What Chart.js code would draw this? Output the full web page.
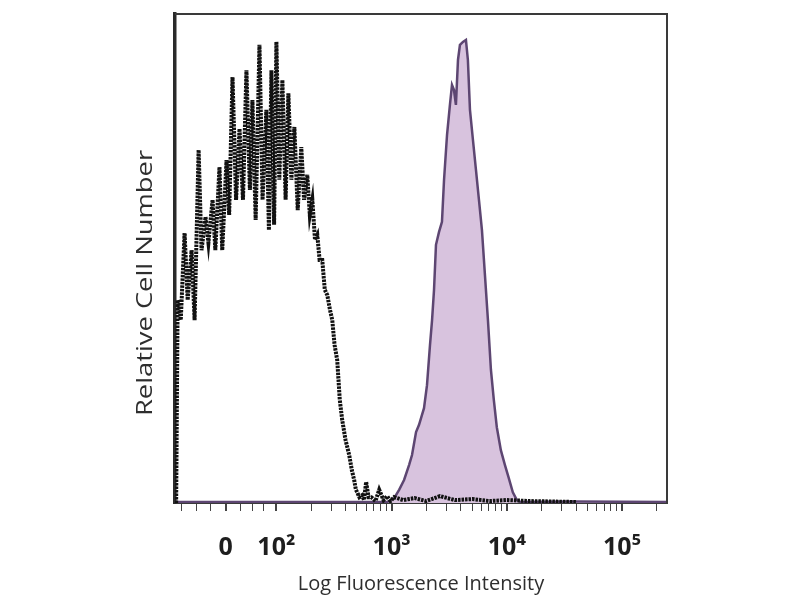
<!DOCTYPE html>
<html>
<head>
<meta charset="utf-8">
<script src="https://cdn.jsdelivr.net/npm/chart.js@4/dist/chart.umd.min.js"></script>
<style>
  html, body { margin: 0; padding: 0; background: #fff; }
  #wrap { width: 800px; height: 600px; }
</style>
</head>
<body>
<div id="wrap"><canvas id="c" width="800" height="600"></canvas></div>
<script>
// x values are in display-decade units (2 = 10^2, 3 = 10^3 ...); y = relative cell number (% of max)
const isotypeX = [1.13, 1.143, 1.17, 1.203, 1.23, 1.264, 1.29, 1.325, 1.35, 1.385, 1.41, 1.446, 1.47, 1.506, 1.53, 1.567, 1.59, 1.619, 1.65, 1.680,
  1.71, 1.740, 1.77, 1.792, 1.82, 1.853, 1.88, 1.913, 1.935, 1.957, 1.98, 2.000, 2.025, 2.052, 2.08, 2.104, 2.13, 2.156, 2.185, 2.216,
  2.24, 2.268, 2.29, 2.312, 2.335, 2.355, 2.375, 2.398, 2.42, 2.442, 2.465, 2.485, 2.505, 2.528, 2.55, 2.571, 2.60, 2.632, 2.655, 2.675,
  2.69, 2.701, 2.72, 2.745, 2.76, 2.779, 2.80, 2.823, 2.86, 2.892, 2.93, 2.961, 2.99, 3.022, 3.1, 3.2, 3.3, 3.42, 3.55, 3.7,
  3.85, 4.0, 4.2, 4.4, 4.6];
const isotypeY = [0, 41.5, 37.4, 55.2, 41.5, 51.7, 37.4, 72.2, 51.7, 58.5, 53.2, 62.0, 51.7, 68.7, 51.7, 70.1, 58.9, 87.1, 62.0, 76.5,
  62.0, 88.5, 64.0, 82.4, 57.9, 93.7, 62.0, 80.4, 55.8, 88.5, 56.9, 94.3, 66.1, 86.5, 62.0, 83.8, 66.1, 76.9, 59.9, 72.8,
  62.0, 67.1, 58.9, 62.0, 53.8, 54.8, 49.7, 49.7, 43.6, 42.5, 39.5, 37.4, 32.3, 29.2, 21.1, 17.0, 12.9, 9.8, 6.7, 4.7,
  2.7, 2.2, 1.2, 1.6, 0.6, 4.3, 1.2, 1.2, 0.4, 2.7, 0.6, 1.4, 0.4, 1.2, 0.6, 1.0, 0.4, 1.4, 0.6, 0.8,
  0.4, 0.6, 0.4, 0.3, 0.2];

const stainedX = [1.12, 2.90, 2.961, 3.022, 3.065, 3.108, 3.152, 3.177, 3.212, 3.238, 3.281, 3.307, 3.333, 3.351, 3.368, 3.385,
  3.411, 3.437, 3.455, 3.481, 3.506, 3.524, 3.541, 3.558, 3.576, 3.593, 3.619, 3.645, 3.662, 3.680, 3.706, 3.732,
  3.758, 3.784, 3.810, 3.836, 3.862, 3.887, 3.913, 3.948, 3.983, 4.017, 4.052, 4.087, 4.121, 4.6, 5.39];
const stainedY = [0.2, 0.2, 0.2, 1.0, 2.7, 4.7, 7.8, 9.8, 14.5, 16.0, 19.4, 24.1, 32.3, 37.4, 43.6, 52.8,
  55.4, 57.5, 66.1, 75.3, 81.4, 85.5, 84.5, 81.4, 90.6, 93.7, 94.3, 94.7, 90.6, 80.4, 74.2, 68.1,
  62.0, 55.8, 46.6, 37.4, 27.2, 21.1, 15.5, 10.8, 7.8, 5.1, 2.2, 0.6, 0.2, 0.3, 0.2];

const tickValues = [1.18, 1.31, 1.43, 1.56, 1.69, 1.79, 1.89, 2,
  2.301, 2.477, 2.602, 2.699, 2.778, 2.845, 2.903, 2.954, 3,
  3.301, 3.477, 3.602, 3.699, 3.778, 3.845, 3.903, 3.954, 4,
  4.301, 4.477, 4.602, 4.699, 4.778, 4.845, 4.903, 4.954, 5, 5.301];
const tickLabels = ['', '', '', '0', '', '', '', '10\u00B2',
  '', '', '', '', '', '', '', '', '10\u00B3',
  '', '', '', '', '', '', '', '', '10\u2074',
  '', '', '', '', '', '', '', '', '10\u2075', ''];

const xTitle = 'Log Fluorescence Intensity';
const yTitle = 'Relative Cell Number';

const toPoints = (xs, ys) => xs.map((x, i) => ({ x: x, y: ys[i] }));

const framePlugin = {
  id: 'frame',
  afterDraw(chart) {
    const { ctx, chartArea: a } = chart;
    ctx.save();
    ctx.strokeStyle = '#3a3a3a';
    ctx.lineWidth = 2;
    ctx.beginPath();
    ctx.moveTo(a.left, a.top);
    ctx.lineTo(a.right, a.top);
    ctx.lineTo(a.right, a.bottom);
    ctx.stroke();
    // y-axis title (stretched like the original)
    ctx.translate(146, 283);
    ctx.rotate(-Math.PI / 2);
    ctx.scale(1.3, 1);
    ctx.fillStyle = '#2e2e2e';
    ctx.font = '21px "Open Sans", "Liberation Sans", sans-serif';
    ctx.textAlign = 'center';
    ctx.textBaseline = 'middle';
    ctx.fillText(yTitle, 0, 0);
    ctx.restore();
  }
};

new Chart(document.getElementById('c'), {
  type: 'line',
  data: {
    datasets: [
      {
        label: 'Isotype',
        data: toPoints(isotypeX, isotypeY),
        borderColor: '#111',
        borderWidth: 4,
        borderDash: [2.5, 1],
        pointRadius: 0,
        tension: 0,
        fill: false,
        order: 0
      },
      {
        label: 'Stained',
        data: toPoints(stainedX, stainedY),
        borderColor: '#5d4672',
        backgroundColor: '#d8c3de',
        borderWidth: 2.5,
        pointRadius: 0,
        tension: 0,
        fill: 'origin',
        order: 1
      }
    ]
  },
  options: {
    responsive: false,
    animation: false,
    layout: { padding: { left: 120, right: 133, top: 14, bottom: 0 } },
    plugins: { legend: { display: false }, tooltip: { enabled: false } },
    scales: {
      x: {
        type: 'linear',
        min: 1.12,
        max: 5.39,
        afterBuildTicks: s => { s.ticks = tickValues.map(v => ({ value: v })); },
        afterFit: s => { s.height = 97; },
        grid: {
          drawOnChartArea: false,
          drawTicks: true,
          tickLength: 8,
          color: '#444',
          lineWidth: ctx => (ctx.tick && tickLabels[tickValues.indexOf(ctx.tick.value)] ? 2 : 1)
        },
        border: { display: true, color: '#3a3a3a', width: 2 },
        ticks: {
          autoSkip: false,
          maxRotation: 0,
          padding: 22,
          color: '#1e1e1e',
          font: { family: '"Open Sans", "Liberation Sans", sans-serif', size: 25, weight: 'bold' },
          callback: (v) => { const i = tickValues.indexOf(v); return i >= 0 ? tickLabels[i] : ''; }
        },
        title: {
          display: true,
          text: xTitle,
          color: '#2e2e2e',
          font: { family: '"Open Sans", "Liberation Sans", sans-serif', size: 20 },
          padding: { top: 0, bottom: 4 }
        }
      },
      y: {
        type: 'linear',
        min: 0,
        max: 100,
        afterFit: s => { s.width = 55; },
        grid: { display: false, drawTicks: false },
        border: { display: true, color: '#2a2a2a', width: 3.5 },
        ticks: { display: false }
      }
    }
  },
  plugins: [framePlugin]
});
</script>
</body>
</html>
